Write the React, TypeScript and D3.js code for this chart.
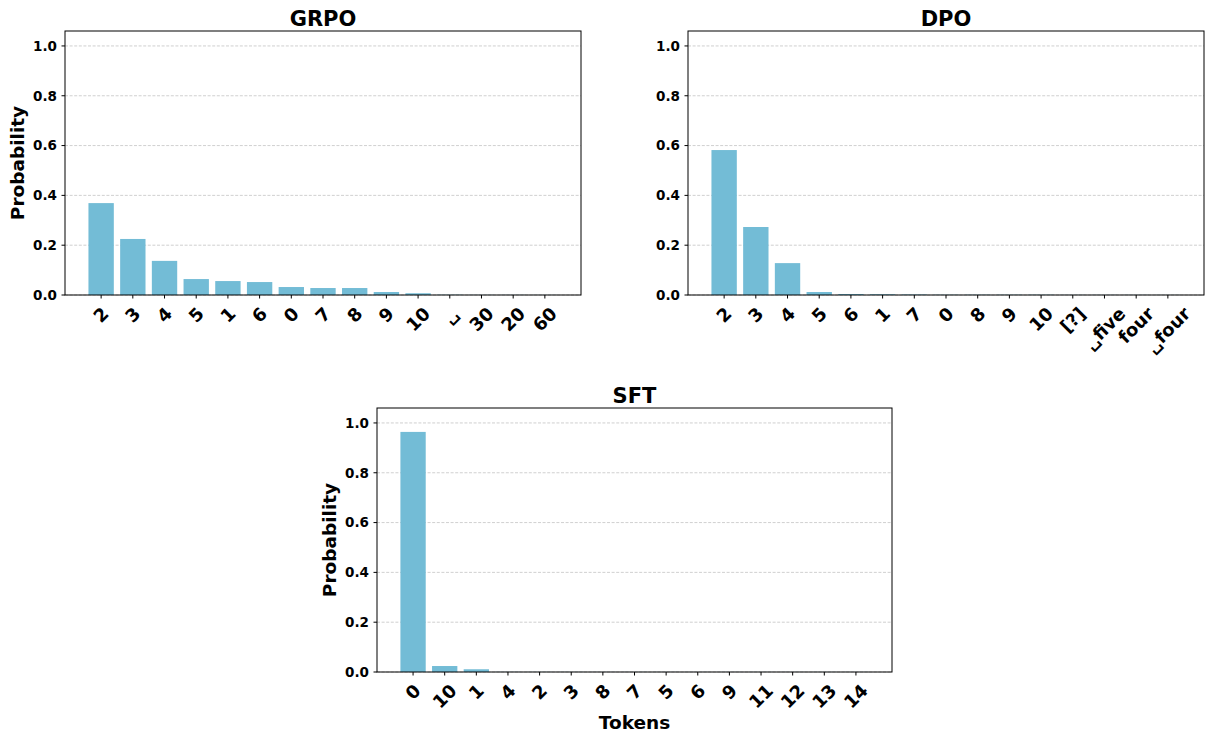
import React from "react";
import * as d3 from "d3";

const grpoTokens = ["2", "3", "4", "5", "1", "6", "0", "7", "8", "9", "10", "\u2423", "30", "20", "60"];
const grpoValues = [0.369, 0.225, 0.137, 0.064, 0.056, 0.052, 0.032, 0.028, 0.028, 0.012, 0.007, 0.001, 0.0005, 0.0005, 0.0004];

const dpoTokens = ["2", "3", "4", "5", "6", "1", "7", "0", "8", "9", "10", "[?]", "\u2423five", "four", "\u2423four"];
const dpoValues = [0.582, 0.273, 0.128, 0.012, 0.004, 0.003, 0.002, 0.001, 0.001, 0.001, 0.001, 0.0005, 0.0005, 0.0005, 0.0004];

const sftTokens = ["0", "10", "1", "4", "2", "3", "8", "7", "5", "6", "9", "11", "12", "13", "14"];
const sftValues = [0.964, 0.024, 0.011, 0.0005, 0.0004, 0.0004, 0.0003, 0.0003, 0.0003, 0.0002, 0.0002, 0.0002, 0.0002, 0.0002, 0.0002];

const yTicks = [0, 0.2, 0.4, 0.6, 0.8, 1.0];
const yMax = 1.06;

const FONT = "'DejaVu Sans', sans-serif";
const BAR = "#73bcd6";

let ctx: CanvasRenderingContext2D | null = null;
function measure(text: string, size: number) {
  if (!ctx) ctx = document.createElement("canvas").getContext("2d");
  if (!ctx) return text.length * size * 0.7;
  ctx.font = `bold ${size}px "DejaVu Sans"`;
  return ctx.measureText(text).width;
}

type PanelProps = {
  title: string;
  tokens: string[];
  values: number[];
  left: number;
  right: number;
  top: number;
  bottom: number;
  ylabelX?: number;
  xlabel?: boolean;
};

function Panel({ title, tokens, values, left, right, top, bottom, ylabelX, xlabel }: PanelProps) {
  const n = tokens.length;
  const m = 0.05 * (n - 1 + 0.8);
  const x = d3.scaleLinear().domain([-0.4 - m, n - 1 + 0.4 + m]).range([left, right]);
  const y = d3.scaleLinear().domain([0, yMax]).range([bottom, top]);
  const bw = x(0.8) - x(0);
  const xfs = 18;
  const tickLen = 3.5;
  const pad = 4.9;
  return (
    <g>
      {yTicks.map((t) => (
        <line key={"g" + t} x1={left} x2={right} y1={y(t)} y2={y(t)} stroke="#c4c4c4" strokeWidth={0.8} strokeDasharray="3,1.6" />
      ))}
      {values.map((v, i) => (
        <rect key={"b" + i} x={x(i) - bw / 2} width={bw} y={y(v)} height={bottom - y(v)} fill={BAR} />
      ))}
      <rect x={left} y={top} width={right - left} height={bottom - top} fill="none" stroke="#000" strokeWidth={1} />
      {yTicks.map((t) => (
        <g key={"yt" + t}>
          <line x1={left - tickLen} x2={left} y1={y(t)} y2={y(t)} stroke="#000" strokeWidth={1} />
          <text x={left - 8} y={y(t)} dy="0.36em" textAnchor="end" fontSize={13.5} fontWeight="bold" fontFamily={FONT}>
            {t.toFixed(1)}
          </text>
        </g>
      ))}
      {tokens.map((tok, i) => {
        const w = measure(tok, xfs);
        const h = 1.1 * xfs;
        const half = (w + h) / (2 * Math.SQRT2);
        const cx = x(i);
        const cy = bottom + tickLen + pad + half;
        return (
          <g key={"xt" + i}>
            <line x1={cx} x2={cx} y1={bottom} y2={bottom + tickLen} stroke="#000" strokeWidth={1} />
            <text
              transform={`translate(${cx},${cy}) rotate(-45)`}
              y={0.346 * xfs}
              textAnchor="middle"
              fontSize={xfs}
              fontWeight="bold"
              fontFamily={FONT}
            >
              {tok}
            </text>
          </g>
        );
      })}
      <text x={(left + right) / 2} y={top - 5} textAnchor="middle" fontSize={21} fontWeight="bold" fontFamily={FONT}>
        {title}
      </text>
      {ylabelX !== undefined && (
        <text
          transform={`translate(${ylabelX},${(top + bottom) / 2}) rotate(-90)`}
          textAnchor="middle"
          dy="0.35em"
          fontSize={18.5}
          fontWeight="bold"
          fontFamily={FONT}
        >
          Probability
        </text>
      )}
      {xlabel && (
        <text x={(left + right) / 2} y={729} textAnchor="middle" fontSize={18.5} fontWeight="bold" fontFamily={FONT}>
          Tokens
        </text>
      )}
    </g>
  );
}

export default function App() {
  return (
    <svg width={1208} height={736} style={{ position: "absolute", left: 0, top: 0, background: "#fff" }}>
      <rect width={1208} height={736} fill="#fff" />
      <Panel title="GRPO" tokens={grpoTokens} values={grpoValues} left={65} right={581} top={31} bottom={295} ylabelX={18} />
      <Panel title="DPO" tokens={dpoTokens} values={dpoValues} left={688} right={1204} top={31} bottom={295} />
      <Panel title="SFT" tokens={sftTokens} values={sftValues} left={377} right={892} top={408} bottom={672} ylabelX={330} xlabel />
    </svg>
  );
}
